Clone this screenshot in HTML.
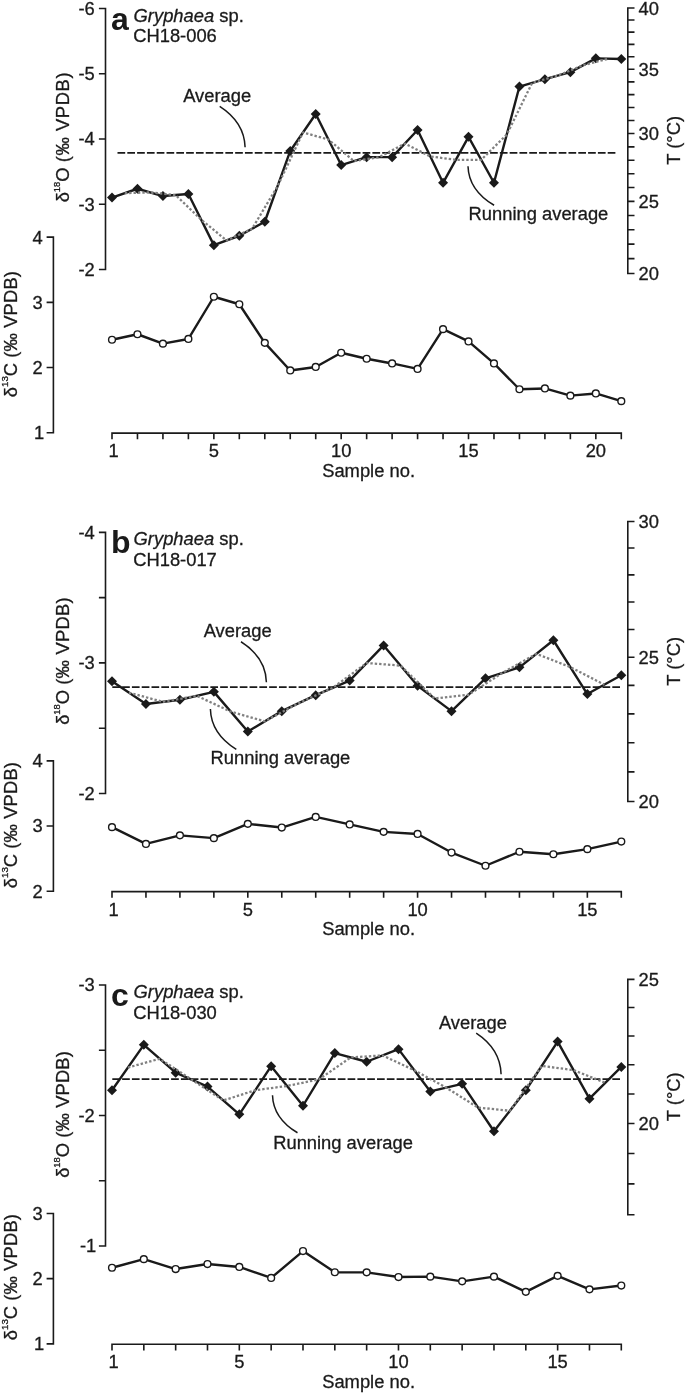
<!DOCTYPE html>
<html><head><meta charset="utf-8"><title>Gryphaea stable isotopes</title>
<style>
html,body{margin:0;padding:0;background:#fff}
svg{display:block;font-family:"Liberation Sans",sans-serif;will-change:transform}
</style></head><body>
<svg width="685" height="1393" viewBox="0 0 685 1393">
<rect width="685" height="1393" fill="#fff"/>
<g transform="translate(0 0.35)">
<g fill="none" stroke="#1a1a1a" stroke-width="1.6" stroke-linecap="butt">
<path d="M98.9 8.2H105.5V269.08H98.9M98.9 73.42H105.5M98.9 138.64H105.5M98.9 203.86H105.5"/>
<path d="M634.5 7.6H627.8V273.09H634.5M627.8 258.31h6.7M627.8 243.73h6.7M627.8 229.33h6.7M627.8 215.11h6.7M627.8 201.06h6.7M627.8 187.18h6.7M627.8 173.46h6.7M627.8 159.9h6.7M627.8 146.49h6.7M627.8 133.22h6.7M627.8 120.09h6.7M627.8 107.1h6.7M627.8 94.24h6.7M627.8 81.5h6.7M627.8 68.9h6.7M627.8 56.41h6.7M627.8 44.04h6.7M627.8 31.78h6.7M627.8 19.64h6.7"/>
<path d="M46.6 236.8H53.4V432.4H46.6M46.6 367.2H53.4M46.6 302H53.4"/>
<path d="M112 439V432.8H621.3V439M137.47 432.8v6.2M162.93 432.8v6.2M188.39 432.8v6.2M213.86 432.8v6.2M239.32 432.8v6.2M264.79 432.8v6.2M290.25 432.8v6.2M315.72 432.8v6.2M341.18 432.8v6.2M366.65 432.8v6.2M392.11 432.8v6.2M417.58 432.8v6.2M443.04 432.8v6.2M468.51 432.8v6.2M493.97 432.8v6.2M519.44 432.8v6.2M544.9 432.8v6.2M570.37 432.8v6.2M595.83 432.8v6.2"/>
</g>
<g font-size="18.35" fill="#1a1a1a" stroke="#1a1a1a" stroke-width="0.3">
<text x="94.8" y="14.65" text-anchor="end">-6</text>
<text x="94.8" y="79.87" text-anchor="end">-5</text>
<text x="94.8" y="145.09" text-anchor="end">-4</text>
<text x="94.8" y="210.31" text-anchor="end">-3</text>
<text x="94.8" y="275.53" text-anchor="end">-2</text>
<text x="638.6" y="14.2">40</text>
<text x="638.6" y="75.5">35</text>
<text x="638.6" y="139.82">30</text>
<text x="638.6" y="207.66">25</text>
<text x="638.6" y="279.69">20</text>
<text x="44.1" y="438.85" text-anchor="end">1</text>
<text x="42.6" y="373.65" text-anchor="end">2</text>
<text x="42.6" y="308.45" text-anchor="end">3</text>
<text x="42.6" y="243.25" text-anchor="end">4</text>
<text x="113.6" y="456.8" text-anchor="middle">1</text>
<text x="213.86" y="456.8" text-anchor="middle">5</text>
<text x="341.18" y="456.8" text-anchor="middle">10</text>
<text x="468.51" y="456.8" text-anchor="middle">15</text>
<text x="595.83" y="456.8" text-anchor="middle">20</text>
<text x="322.2" y="476.6">Sample no.</text>
<text x="111" y="29.3" font-size="32" font-weight="bold" stroke="none">a</text>
<text x="133.6" y="21.2"><tspan font-style="italic">Gryphaea</tspan> sp.</text>
<text x="133.2" y="42.1">CH18-006</text>
<text transform="translate(69.3 202) rotate(-90)">δ<tspan font-size="9.4" dy="-9.4">18</tspan><tspan dy="9.4">O </tspan><tspan letter-spacing="0.6">(‰ VPDB)</tspan></text>
<text transform="translate(17.2 396.9) rotate(-90)">δ<tspan font-size="9.8" dy="-9.7">13</tspan><tspan dy="9.7">C </tspan><tspan letter-spacing="0.15">(‰ VPDB)</tspan></text>
<text transform="translate(679.9 164.4) rotate(-90)">T (°C)</text>
<text x="183.2" y="101.7">Average</text>
<text x="468.6" y="219.8">Running average</text>
</g>
<g fill="none" stroke="#1a1a1a" stroke-width="1.5">
<path d="M219.7 106C233.67 115.02 244.6 128.55 245.1 147"/>
<path d="M468 165.8C468.5 183.4 479.75 196.3 494.1 204.9"/>
</g>
<path d="M615.4 152.5H117.5" stroke="#1a1a1a" stroke-width="1.9" stroke-dasharray="7.7 2.104" fill="none"/>
<polyline points="112,197.2 137.47,188.4 162.93,195.7 188.39,193.7 213.86,244.8 239.32,235.4 264.79,221.4 290.25,150.6 315.72,113.6 341.18,164.7 366.65,156.8 392.11,156.8 417.58,129.6 443.04,182.5 468.51,136.5 493.97,182.4 519.44,86.2 544.9,78.8 570.37,71.8 595.83,58 621.3,58.6" fill="none" stroke="#1a1a1a" stroke-width="2.4" stroke-linejoin="round"/>
<g fill="#1a1a1a"><path d="M107 197.2L112 192.2L117 197.2L112 202.2Z"/><path d="M132.47 188.4L137.47 183.4L142.47 188.4L137.47 193.4Z"/><path d="M157.93 195.7L162.93 190.7L167.93 195.7L162.93 200.7Z"/><path d="M183.39 193.7L188.39 188.7L193.39 193.7L188.39 198.7Z"/><path d="M208.86 244.8L213.86 239.8L218.86 244.8L213.86 249.8Z"/><path d="M234.32 235.4L239.32 230.4L244.32 235.4L239.32 240.4Z"/><path d="M259.79 221.4L264.79 216.4L269.79 221.4L264.79 226.4Z"/><path d="M285.25 150.6L290.25 145.6L295.25 150.6L290.25 155.6Z"/><path d="M310.72 113.6L315.72 108.6L320.72 113.6L315.72 118.6Z"/><path d="M336.18 164.7L341.18 159.7L346.18 164.7L341.18 169.7Z"/><path d="M361.65 156.8L366.65 151.8L371.65 156.8L366.65 161.8Z"/><path d="M387.11 156.8L392.11 151.8L397.11 156.8L392.11 161.8Z"/><path d="M412.58 129.6L417.58 124.6L422.58 129.6L417.58 134.6Z"/><path d="M438.04 182.5L443.04 177.5L448.04 182.5L443.04 187.5Z"/><path d="M463.51 136.5L468.51 131.5L473.51 136.5L468.51 141.5Z"/><path d="M488.97 182.4L493.97 177.4L498.97 182.4L493.97 187.4Z"/><path d="M514.44 86.2L519.44 81.2L524.44 86.2L519.44 91.2Z"/><path d="M539.9 78.8L544.9 73.8L549.9 78.8L544.9 83.8Z"/><path d="M565.37 71.8L570.37 66.8L575.37 71.8L570.37 76.8Z"/><path d="M590.83 58L595.83 53L600.83 58L595.83 63Z"/><path d="M616.3 58.6L621.3 53.6L626.3 58.6L621.3 63.6Z"/></g>
<polyline points="124.73,192.8 150.2,192.05 175.66,194.7 201.13,219.25 226.59,240.1 252.06,228.4 277.52,186 302.99,132.1 328.45,139.15 353.92,160.75 379.38,156.8 404.85,143.2 430.31,156.05 455.78,159.5 481.24,159.45 506.71,134.3 532.17,82.5 557.64,75.3 583.1,64.9 608.57,58.3" fill="none" stroke="#808080" stroke-width="2.3" stroke-dasharray="2.4 2" stroke-linejoin="round"/>
<polyline points="112,339.4 137.47,333.9 162.93,343.3 188.39,338.6 213.86,296.4 239.32,303.9 264.79,342.5 290.25,370.1 315.72,366.6 341.18,352.4 366.65,358.4 392.11,363.1 417.58,368.6 443.04,328.8 468.51,341.1 493.97,363.1 519.44,388.9 544.9,388.1 570.37,395.3 595.83,393.1 621.3,400.8" fill="none" stroke="#1a1a1a" stroke-width="2.4" stroke-linejoin="round"/>
<g fill="#fff" stroke="#1a1a1a" stroke-width="1.4"><circle cx="112" cy="339.4" r="3.4"/><circle cx="137.47" cy="333.9" r="3.4"/><circle cx="162.93" cy="343.3" r="3.4"/><circle cx="188.39" cy="338.6" r="3.4"/><circle cx="213.86" cy="296.4" r="3.4"/><circle cx="239.32" cy="303.9" r="3.4"/><circle cx="264.79" cy="342.5" r="3.4"/><circle cx="290.25" cy="370.1" r="3.4"/><circle cx="315.72" cy="366.6" r="3.4"/><circle cx="341.18" cy="352.4" r="3.4"/><circle cx="366.65" cy="358.4" r="3.4"/><circle cx="392.11" cy="363.1" r="3.4"/><circle cx="417.58" cy="368.6" r="3.4"/><circle cx="443.04" cy="328.8" r="3.4"/><circle cx="468.51" cy="341.1" r="3.4"/><circle cx="493.97" cy="363.1" r="3.4"/><circle cx="519.44" cy="388.9" r="3.4"/><circle cx="544.9" cy="388.1" r="3.4"/><circle cx="570.37" cy="395.3" r="3.4"/><circle cx="595.83" cy="393.1" r="3.4"/><circle cx="621.3" cy="400.8" r="3.4"/></g>
<g fill="none" stroke="#1a1a1a" stroke-width="1.6" stroke-linecap="butt">
<path d="M98.9 532H105.5V793.1H98.9M98.9 597.27H105.5M98.9 662.55H105.5M98.9 727.83H105.5"/>
<path d="M634.5 521.14H627.8V801.13H634.5M627.8 771.55h6.7M627.8 742.35h6.7M627.8 713.53h6.7M627.8 685.07h6.7M627.8 656.95h6.7M627.8 629.17h6.7M627.8 601.71h6.7M627.8 574.56h6.7M627.8 547.71h6.7"/>
<path d="M46.6 760.5H53.4V890.9H46.6M46.6 825.7H53.4"/>
<path d="M112 897.5V891.3H621.3V897.5M145.95 891.3v6.2M179.91 891.3v6.2M213.86 891.3v6.2M247.81 891.3v6.2M281.77 891.3v6.2M315.72 891.3v6.2M349.67 891.3v6.2M383.63 891.3v6.2M417.58 891.3v6.2M451.53 891.3v6.2M485.49 891.3v6.2M519.44 891.3v6.2M553.39 891.3v6.2M587.35 891.3v6.2"/>
</g>
<g font-size="18.35" fill="#1a1a1a" stroke="#1a1a1a" stroke-width="0.3">
<text x="94.8" y="538.45" text-anchor="end">-4</text>
<text x="94.8" y="669" text-anchor="end">-3</text>
<text x="94.8" y="799.55" text-anchor="end">-2</text>
<text x="638.6" y="527.74">30</text>
<text x="638.6" y="663.55">25</text>
<text x="638.6" y="807.73">20</text>
<text x="42.6" y="897.35" text-anchor="end">2</text>
<text x="42.6" y="832.15" text-anchor="end">3</text>
<text x="42.6" y="766.95" text-anchor="end">4</text>
<text x="113.6" y="915.3" text-anchor="middle">1</text>
<text x="247.81" y="915.3" text-anchor="middle">5</text>
<text x="417.58" y="915.3" text-anchor="middle">10</text>
<text x="587.35" y="915.3" text-anchor="middle">15</text>
<text x="322.2" y="935.1">Sample no.</text>
<text x="111" y="553.1" font-size="32" font-weight="bold" stroke="none">b</text>
<text x="133.6" y="545"><tspan font-style="italic">Gryphaea</tspan> sp.</text>
<text x="133.2" y="565.9">CH18-017</text>
<text transform="translate(69.3 724.5) rotate(-90)">δ<tspan font-size="9.4" dy="-9.4">18</tspan><tspan dy="9.4">O </tspan><tspan letter-spacing="0.25">(‰ VPDB)</tspan></text>
<text transform="translate(17.2 887.9) rotate(-90)">δ<tspan font-size="9.8" dy="-9.7">13</tspan><tspan dy="9.7">C </tspan><tspan letter-spacing="0.15">(‰ VPDB)</tspan></text>
<text transform="translate(679.9 685.4) rotate(-90)">T (°C)</text>
<text x="203.7" y="636.8">Average</text>
<text x="210.6" y="763.5">Running average</text>
</g>
<g fill="none" stroke="#1a1a1a" stroke-width="1.5">
<path d="M241 641.4C254.97 650.29 265.9 663.62 266.4 681.8"/>
<path d="M210.4 708.6C210.9 726.78 222.06 740.11 236.3 749"/>
</g>
<path d="M620 686.8H112.3" stroke="#1a1a1a" stroke-width="1.9" stroke-dasharray="7.7 2.104" fill="none"/>
<polyline points="112,681 145.95,703.6 179.91,699.4 213.86,691.5 247.81,731.2 281.77,710.8 315.72,694.8 349.67,680.2 383.63,645.1 417.58,685.4 451.53,710.8 485.49,678 519.44,667 553.39,639.9 587.35,693.7 621.3,674.9" fill="none" stroke="#1a1a1a" stroke-width="2.4" stroke-linejoin="round"/>
<g fill="#1a1a1a"><path d="M107 681L112 676L117 681L112 686Z"/><path d="M140.95 703.6L145.95 698.6L150.95 703.6L145.95 708.6Z"/><path d="M174.91 699.4L179.91 694.4L184.91 699.4L179.91 704.4Z"/><path d="M208.86 691.5L213.86 686.5L218.86 691.5L213.86 696.5Z"/><path d="M242.81 731.2L247.81 726.2L252.81 731.2L247.81 736.2Z"/><path d="M276.77 710.8L281.77 705.8L286.77 710.8L281.77 715.8Z"/><path d="M310.72 694.8L315.72 689.8L320.72 694.8L315.72 699.8Z"/><path d="M344.67 680.2L349.67 675.2L354.67 680.2L349.67 685.2Z"/><path d="M378.63 645.1L383.63 640.1L388.63 645.1L383.63 650.1Z"/><path d="M412.58 685.4L417.58 680.4L422.58 685.4L417.58 690.4Z"/><path d="M446.53 710.8L451.53 705.8L456.53 710.8L451.53 715.8Z"/><path d="M480.49 678L485.49 673L490.49 678L485.49 683Z"/><path d="M514.44 667L519.44 662L524.44 667L519.44 672Z"/><path d="M548.39 639.9L553.39 634.9L558.39 639.9L553.39 644.9Z"/><path d="M582.35 693.7L587.35 688.7L592.35 693.7L587.35 698.7Z"/><path d="M616.3 674.9L621.3 669.9L626.3 674.9L621.3 679.9Z"/></g>
<polyline points="128.98,692.3 162.93,701.5 196.88,695.45 230.84,711.35 264.79,721 298.74,702.8 332.7,687.5 366.65,662.65 400.6,665.25 434.56,698.1 468.51,694.4 502.46,672.5 536.42,653.45 570.37,666.8 604.32,684.3" fill="none" stroke="#808080" stroke-width="2.3" stroke-dasharray="2.4 2" stroke-linejoin="round"/>
<polyline points="112,826.8 145.95,843.6 179.91,835 213.86,837.8 247.81,823.5 281.77,827.2 315.72,816.6 349.67,824.1 383.63,831.5 417.58,833.6 451.53,852.2 485.49,865.4 519.44,851.4 553.39,853.9 587.35,848.8 621.3,841.2" fill="none" stroke="#1a1a1a" stroke-width="2.4" stroke-linejoin="round"/>
<g fill="#fff" stroke="#1a1a1a" stroke-width="1.4"><circle cx="112" cy="826.8" r="3.4"/><circle cx="145.95" cy="843.6" r="3.4"/><circle cx="179.91" cy="835" r="3.4"/><circle cx="213.86" cy="837.8" r="3.4"/><circle cx="247.81" cy="823.5" r="3.4"/><circle cx="281.77" cy="827.2" r="3.4"/><circle cx="315.72" cy="816.6" r="3.4"/><circle cx="349.67" cy="824.1" r="3.4"/><circle cx="383.63" cy="831.5" r="3.4"/><circle cx="417.58" cy="833.6" r="3.4"/><circle cx="451.53" cy="852.2" r="3.4"/><circle cx="485.49" cy="865.4" r="3.4"/><circle cx="519.44" cy="851.4" r="3.4"/><circle cx="553.39" cy="853.9" r="3.4"/><circle cx="587.35" cy="848.8" r="3.4"/><circle cx="621.3" cy="841.2" r="3.4"/></g>
<g fill="none" stroke="#1a1a1a" stroke-width="1.6" stroke-linecap="butt">
<path d="M98.9 984.6H105.5V1245.7H98.9M98.9 1049.88H105.5M98.9 1115.15H105.5M98.9 1180.42H105.5"/>
<path d="M634.5 979H627.8V1214.4H634.5M627.8 1183.56h6.7M627.8 1153.16h6.7M627.8 1123.18h6.7M627.8 1093.6h6.7M627.8 1064.4h6.7M627.8 1035.58h6.7M627.8 1007.12h6.7"/>
<path d="M46.6 1213.1H53.4V1343.5H46.6M46.6 1278.3H53.4"/>
<path d="M112 1350.1V1343.9H621.3V1350.1M143.83 1343.9v6.2M175.66 1343.9v6.2M207.49 1343.9v6.2M239.32 1343.9v6.2M271.16 1343.9v6.2M302.99 1343.9v6.2M334.82 1343.9v6.2M366.65 1343.9v6.2M398.48 1343.9v6.2M430.31 1343.9v6.2M462.14 1343.9v6.2M493.97 1343.9v6.2M525.81 1343.9v6.2M557.64 1343.9v6.2M589.47 1343.9v6.2"/>
</g>
<g font-size="18.35" fill="#1a1a1a" stroke="#1a1a1a" stroke-width="0.3">
<text x="94.8" y="991.05" text-anchor="end">-3</text>
<text x="94.8" y="1121.6" text-anchor="end">-2</text>
<text x="96.3" y="1252.15" text-anchor="end">-1</text>
<text x="638.6" y="985.6">25</text>
<text x="638.6" y="1129.78">20</text>
<text x="44.1" y="1349.95" text-anchor="end">1</text>
<text x="42.6" y="1284.75" text-anchor="end">2</text>
<text x="42.6" y="1219.55" text-anchor="end">3</text>
<text x="113.6" y="1367.9" text-anchor="middle">1</text>
<text x="239.32" y="1367.9" text-anchor="middle">5</text>
<text x="398.48" y="1367.9" text-anchor="middle">10</text>
<text x="557.64" y="1367.9" text-anchor="middle">15</text>
<text x="322.2" y="1387.7">Sample no.</text>
<text x="111" y="1005.7" font-size="32" font-weight="bold" stroke="none">c</text>
<text x="133.6" y="997.6"><tspan font-style="italic">Gryphaea</tspan> sp.</text>
<text x="133.2" y="1018.5">CH18-030</text>
<text transform="translate(69.3 1177.5) rotate(-90)">δ<tspan font-size="9.4" dy="-9.4">18</tspan><tspan dy="9.4">O </tspan><tspan letter-spacing="0.15">(‰ VPDB)</tspan></text>
<text transform="translate(17.2 1339.9) rotate(-90)">δ<tspan font-size="9.8" dy="-9.7">13</tspan><tspan dy="9.7">C </tspan><tspan letter-spacing="0.15">(‰ VPDB)</tspan></text>
<text transform="translate(679.9 1120.8) rotate(-90)">T (°C)</text>
<text x="438.9" y="1028.5">Average</text>
<text x="273.2" y="1148.8">Running average</text>
</g>
<g fill="none" stroke="#1a1a1a" stroke-width="1.5">
<path d="M476.2 1032.7C489.89 1041.74 500.6 1055.31 501.1 1073.8"/>
<path d="M272.5 1094.8C273 1111.72 283.75 1124.13 297.5 1132.4"/>
</g>
<path d="M620 1078.8H112.3" stroke="#1a1a1a" stroke-width="1.9" stroke-dasharray="7.7 2.104" fill="none"/>
<polyline points="112,1089.9 143.83,1044.5 175.66,1072.3 207.49,1086.2 239.32,1114 271.16,1065.8 302.99,1105.4 334.82,1052.7 366.65,1061.4 398.48,1048.8 430.31,1091.1 462.14,1083.5 493.97,1130.9 525.81,1089.9 557.64,1041.2 589.47,1098.3 621.3,1066.6" fill="none" stroke="#1a1a1a" stroke-width="2.4" stroke-linejoin="round"/>
<g fill="#1a1a1a"><path d="M107 1089.9L112 1084.9L117 1089.9L112 1094.9Z"/><path d="M138.83 1044.5L143.83 1039.5L148.83 1044.5L143.83 1049.5Z"/><path d="M170.66 1072.3L175.66 1067.3L180.66 1072.3L175.66 1077.3Z"/><path d="M202.49 1086.2L207.49 1081.2L212.49 1086.2L207.49 1091.2Z"/><path d="M234.32 1114L239.32 1109L244.32 1114L239.32 1119Z"/><path d="M266.16 1065.8L271.16 1060.8L276.16 1065.8L271.16 1070.8Z"/><path d="M297.99 1105.4L302.99 1100.4L307.99 1105.4L302.99 1110.4Z"/><path d="M329.82 1052.7L334.82 1047.7L339.82 1052.7L334.82 1057.7Z"/><path d="M361.65 1061.4L366.65 1056.4L371.65 1061.4L366.65 1066.4Z"/><path d="M393.48 1048.8L398.48 1043.8L403.48 1048.8L398.48 1053.8Z"/><path d="M425.31 1091.1L430.31 1086.1L435.31 1091.1L430.31 1096.1Z"/><path d="M457.14 1083.5L462.14 1078.5L467.14 1083.5L462.14 1088.5Z"/><path d="M488.97 1130.9L493.97 1125.9L498.97 1130.9L493.97 1135.9Z"/><path d="M520.81 1089.9L525.81 1084.9L530.81 1089.9L525.81 1094.9Z"/><path d="M552.64 1041.2L557.64 1036.2L562.64 1041.2L557.64 1046.2Z"/><path d="M584.47 1098.3L589.47 1093.3L594.47 1098.3L589.47 1103.3Z"/><path d="M616.3 1066.6L621.3 1061.6L626.3 1066.6L621.3 1071.6Z"/></g>
<polyline points="127.92,1067.2 159.75,1058.4 191.58,1079.25 223.41,1100.1 255.24,1089.9 287.07,1085.6 318.9,1079.05 350.73,1057.05 382.57,1055.1 414.4,1069.95 446.23,1087.3 478.06,1107.2 509.89,1110.4 541.72,1065.55 573.55,1069.75 605.38,1082.45" fill="none" stroke="#808080" stroke-width="2.3" stroke-dasharray="2.4 2" stroke-linejoin="round"/>
<polyline points="112,1267.4 143.83,1258.8 175.66,1268.7 207.49,1263.7 239.32,1266.6 271.16,1277.6 302.99,1250.7 334.82,1271.9 366.65,1272 398.48,1276.7 430.31,1276.3 462.14,1281 493.97,1276.3 525.81,1291.5 557.64,1275.5 589.47,1289 621.3,1285.2" fill="none" stroke="#1a1a1a" stroke-width="2.4" stroke-linejoin="round"/>
<g fill="#fff" stroke="#1a1a1a" stroke-width="1.4"><circle cx="112" cy="1267.4" r="3.4"/><circle cx="143.83" cy="1258.8" r="3.4"/><circle cx="175.66" cy="1268.7" r="3.4"/><circle cx="207.49" cy="1263.7" r="3.4"/><circle cx="239.32" cy="1266.6" r="3.4"/><circle cx="271.16" cy="1277.6" r="3.4"/><circle cx="302.99" cy="1250.7" r="3.4"/><circle cx="334.82" cy="1271.9" r="3.4"/><circle cx="366.65" cy="1272" r="3.4"/><circle cx="398.48" cy="1276.7" r="3.4"/><circle cx="430.31" cy="1276.3" r="3.4"/><circle cx="462.14" cy="1281" r="3.4"/><circle cx="493.97" cy="1276.3" r="3.4"/><circle cx="525.81" cy="1291.5" r="3.4"/><circle cx="557.64" cy="1275.5" r="3.4"/><circle cx="589.47" cy="1289" r="3.4"/><circle cx="621.3" cy="1285.2" r="3.4"/></g>
</g>
</svg>
</body></html>
